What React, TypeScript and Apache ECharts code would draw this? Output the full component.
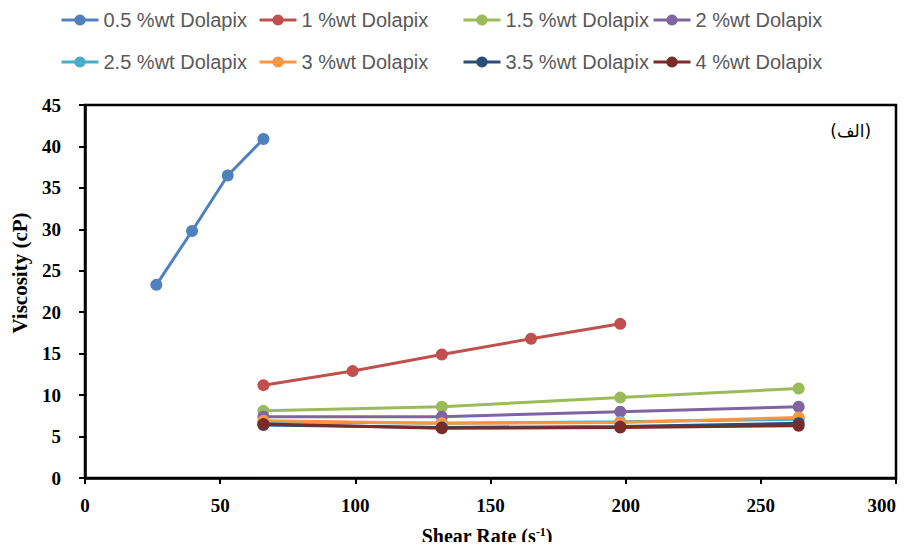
import React, { useEffect, useRef } from "react";
import * as echarts from "echarts";

const seriesNames = [
  "0.5 %wt Dolapix",
  "1 %wt Dolapix",
  "1.5 %wt Dolapix",
  "2 %wt Dolapix",
  "2.5 %wt Dolapix",
  "3 %wt Dolapix",
  "3.5 %wt Dolapix",
  "4 %wt Dolapix",
];
const colors = ["#4F81BD", "#C0504D", "#9BBB59", "#8064A2", "#4BACC6", "#F79646", "#2C4D75", "#772C2A"];

const shearLow = [26.4, 39.6, 52.8, 66];
const shearMid = [66, 99, 132, 165, 198];
const shearHigh = [66, 132, 198, 264];

const visc05 = [23.3, 29.8, 36.5, 40.9];
const visc1 = [11.2, 12.9, 14.9, 16.8, 18.6];
const visc15 = [8.1, 8.6, 9.7, 10.8];
const visc2 = [7.4, 7.4, 8.0, 8.6];
const visc25 = [6.8, 6.6, 6.8, 7.1];
const visc3 = [6.9, 6.6, 6.7, 7.3];
const visc35 = [6.4, 6.1, 6.2, 6.6];
const visc4 = [6.5, 6.0, 6.1, 6.3];

const xTicks = { min: 0, max: 300, interval: 50 };
const yTicks = { min: 0, max: 45, interval: 5 };

const xTitle = "Shear Rate (s{sup|-1})";
const yTitle = "Viscosity (cP)";
const panelLabel = "(الف)";

const seriesX = [shearLow, shearMid, shearHigh, shearHigh, shearHigh, shearHigh, shearHigh, shearHigh];
const seriesY = [visc05, visc1, visc15, visc2, visc25, visc3, visc35, visc4];

const legendCols = [60, 258, 462, 652];
const legendRows = [10, 52];

export default function App() {
  const ref = useRef<HTMLDivElement>(null);
  useEffect(() => {
    if (!ref.current) return;
    const chart = echarts.init(ref.current, null, { renderer: "svg" });
    const serif = "'Liberation Serif', 'Times New Roman', serif";
    chart.setOption({
      animation: false,
      backgroundColor: "#ffffff",
      grid: {
        left: 85,
        right: 13,
        top: 105,
        bottom: 72,
        show: true,
        borderColor: "#000",
        borderWidth: 2.5,
        containLabel: false,
      },
      legend: seriesNames.map((n, i) => ({
        data: [n],
        left: legendCols[i % 4],
        top: legendRows[Math.floor(i / 4)],
        padding: 0,
        itemWidth: 37,
        itemHeight: 14,
        itemGap: 5,
        lineStyle: { width: 3 },
        textStyle: {
          fontSize: 20,
          color: "#595959",
          fontFamily: "'Liberation Sans', Arial, sans-serif",
        },
      })),
      xAxis: {
        type: "value",
        min: xTicks.min,
        max: xTicks.max,
        interval: xTicks.interval,
        splitLine: { show: false },
        axisLine: { show: true, lineStyle: { color: "#000", width: 2.5 } },
        axisTick: { show: true, length: 6, lineStyle: { color: "#000", width: 2 } },
        axisLabel: {
          margin: 18,
          fontSize: 19,
          fontWeight: "bold",
          color: "#000",
          fontFamily: serif,
          alignMaxLabel: "right",
        },
      },
      yAxis: {
        type: "value",
        min: yTicks.min,
        max: yTicks.max,
        interval: yTicks.interval,
        splitLine: { show: false },
        axisLine: { show: true, lineStyle: { color: "#000", width: 2.5 } },
        axisTick: { show: true, length: 6, lineStyle: { color: "#000", width: 2 } },
        axisLabel: {
          margin: 24,
          fontSize: 19,
          fontWeight: "bold",
          color: "#000",
          fontFamily: serif,
        },
      },
      graphic: [
        {
          type: "text",
          right: 38,
          top: 122,
          style: {
            text: panelLabel,
            fontSize: 17,
            fill: "#000",
            fontFamily: "'DejaVu Sans', sans-serif",
          },
        },
        {
          type: "text",
          x: 487,
          y: 536,
          style: {
            text: xTitle,
            fontSize: 20,
            fontWeight: "bold",
            fill: "#000",
            fontFamily: serif,
            align: "center",
            verticalAlign: "middle",
            rich: {
              sup: {
                fontSize: 12,
                fontWeight: "bold",
                fill: "#000",
                fontFamily: serif,
                verticalAlign: "top",
              },
            },
          },
        },
        {
          type: "text",
          x: 20,
          y: 273,
          rotation: Math.PI / 2,
          style: {
            text: yTitle,
            fontSize: 21,
            fontWeight: "bold",
            fill: "#000",
            fontFamily: serif,
            align: "center",
            verticalAlign: "middle",
          },
        },
      ],
      series: seriesNames.map((n, i) => ({
        name: n,
        type: "line",
        data: seriesX[i].map((x, j) => [x, seriesY[i][j]]),
        symbol: "circle",
        symbolSize: 12,
        itemStyle: { color: colors[i] },
        lineStyle: { color: colors[i], width: 3 },
        z: 2 + i,
      })),
    });
    return () => chart.dispose();
  }, []);
  return <div ref={ref} style={{ width: 909, height: 550, margin: -8 }} />;
}
